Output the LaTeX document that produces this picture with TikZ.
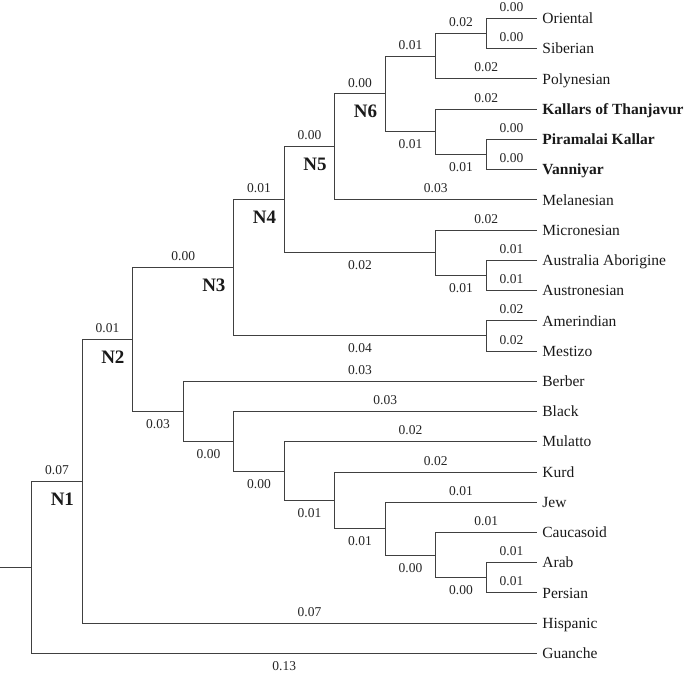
\documentclass[tikz,border=0pt]{standalone}
\usepackage{fontspec}
\setmainfont{Liberation Serif}
\begin{document}
\begin{tikzpicture}[x=50.5pt,y=-30.24pt,
  br/.style={draw=black!75,line width=0.8pt},
  leaf/.style={anchor=west,inner xsep=5.5pt,inner ysep=0pt,text=black!90,
    font=\fontsize{15.5}{18}\selectfont,text height=14pt,text depth=3.4pt},
  leafb/.style={leaf,font=\fontsize{15.5}{18}\selectfont\bfseries},
  lab/.style={font=\fontsize{13.5}{16}\selectfont,inner sep=0pt,text=black!85,pos=0.75},
  up/.style={lab,above=6.3pt},
  dn/.style={lab,below=7.7pt},
  nl/.style={font=\fontsize{19}{22}\selectfont\bfseries,inner sep=0pt,text=black!90,
    anchor=north east,xshift=-8pt,yshift=-11pt}]
\useasboundingbox (-31.7pt,18.3pt) rectangle (653.3pt,-657.7pt);
% internal nodes
\coordinate (R) at (0,18.155);
\coordinate (stub) at (-0.628,18.155);
\coordinate (N1) at (1,15.3105);
\coordinate (N2) at (2,10.6211);
\coordinate (B1) at (3,12.9922);
\coordinate (N3) at (4,8.25);
\coordinate (B2) at (4,13.9844);
\coordinate (N4) at (5,6);
\coordinate (B3) at (5,14.9688);
\coordinate (N5) at (6,4.25);
\coordinate (B4) at (6,15.9375);
\coordinate (N6) at (7,2.5);
\coordinate (B5) at (7,16.875);
\coordinate (A) at (8,1.25);
\coordinate (K) at (8,3.75);
\coordinate (MIC) at (8,7.75);
\coordinate (B6) at (8,17.75);
\coordinate (OS) at (9,0.5);
\coordinate (PV) at (9,4.5);
\coordinate (AA) at (9,8.5);
\coordinate (AM) at (9,10.5);
\coordinate (B7) at (9,18.5);
% leaves
\node[leaf] (ori) at (10,0) {Oriental};
\node[leaf] (sib) at (10,1) {Siberian};
\node[leaf] (pol) at (10,2) {Polynesian};
\node[leafb] (kal) at (10,3) {Kallars of Thanjavur};
\node[leafb] (pir) at (10,4) {Piramalai Kallar};
\node[leafb] (van) at (10,5) {Vanniyar};
\node[leaf] (mel) at (10,6) {Melanesian};
\node[leaf] (mic) at (10,7) {Micronesian};
\node[leaf] (aus) at (10,8) {Australia Aborigine};
\node[leaf] (ausn) at (10,9) {Austronesian};
\node[leaf] (ame) at (10,10) {Amerindian};
\node[leaf] (mes) at (10,11) {Mestizo};
\node[leaf] (ber) at (10,12) {Berber};
\node[leaf] (bla) at (10,13) {Black};
\node[leaf] (mul) at (10,14) {Mulatto};
\node[leaf] (kur) at (10,15) {Kurd};
\node[leaf] (jew) at (10,16) {Jew};
\node[leaf] (cau) at (10,17) {Caucasoid};
\node[leaf] (ara) at (10,18) {Arab};
\node[leaf] (per) at (10,19) {Persian};
\node[leaf] (his) at (10,20) {Hispanic};
\node[leaf] (gua) at (10,21) {Guanche};
% branches
\draw[br] (stub) -- (R);
\draw[br] (R) |- node[up]{0.07} (N1);
\draw[br] (R) |- node[dn]{0.13} (gua.west);
\draw[br] (N1) |- node[up]{0.01} (N2);
\draw[br] (N1) |- node[up]{0.07} (his.west);
\draw[br] (N2) |- node[up]{0.00} (N3);
\draw[br] (N2) |- node[dn]{0.03} (B1);
\draw[br] (N3) |- node[up]{0.01} (N4);
\draw[br] (N3) |- node[dn]{0.04} (AM);
\draw[br] (N4) |- node[up]{0.00} (N5);
\draw[br] (N4) |- node[dn]{0.02} (MIC);
\draw[br] (N5) |- node[up]{0.00} (N6);
\draw[br] (N5) |- node[up]{0.03} (mel.west);
\draw[br] (N6) |- node[up]{0.01} (A);
\draw[br] (N6) |- node[dn]{0.01} (K);
\draw[br] (A) |- node[up]{0.02} (OS);
\draw[br] (A) |- node[up]{0.02} (pol.west);
\draw[br] (OS) |- node[up]{0.00} (ori.west);
\draw[br] (OS) |- node[up]{0.00} (sib.west);
\draw[br] (K) |- node[up]{0.02} (kal.west);
\draw[br] (K) |- node[dn]{0.01} (PV);
\draw[br] (PV) |- node[up]{0.00} (pir.west);
\draw[br] (PV) |- node[up]{0.00} (van.west);
\draw[br] (MIC) |- node[up]{0.02} (mic.west);
\draw[br] (MIC) |- node[dn]{0.01} (AA);
\draw[br] (AA) |- node[up]{0.01} (aus.west);
\draw[br] (AA) |- node[up]{0.01} (ausn.west);
\draw[br] (AM) |- node[up]{0.02} (ame.west);
\draw[br] (AM) |- node[up]{0.02} (mes.west);
\draw[br] (B1) |- node[up]{0.03} (ber.west);
\draw[br] (B1) |- node[dn]{0.00} (B2);
\draw[br] (B2) |- node[up]{0.03} (bla.west);
\draw[br] (B2) |- node[dn]{0.00} (B3);
\draw[br] (B3) |- node[up]{0.02} (mul.west);
\draw[br] (B3) |- node[dn]{0.01} (B4);
\draw[br] (B4) |- node[up]{0.02} (kur.west);
\draw[br] (B4) |- node[dn]{0.01} (B5);
\draw[br] (B5) |- node[up]{0.01} (jew.west);
\draw[br] (B5) |- node[dn]{0.00} (B6);
\draw[br] (B6) |- node[up]{0.01} (cau.west);
\draw[br] (B6) |- node[dn]{0.00} (B7);
\draw[br] (B7) |- node[up]{0.01} (ara.west);
\draw[br] (B7) |- node[up]{0.01} (per.west);
% node labels
\node[nl] (l1) at (N1) {N1};
\node[nl] (l2) at (N2) {N2};
\node[nl] (l3) at (N3) {N3};
\node[nl] (l4) at (N4) {N4};
\node[nl] (l5) at (N5) {N5};
\node[nl] (l6) at (N6) {N6};
\end{tikzpicture}
\end{document}
